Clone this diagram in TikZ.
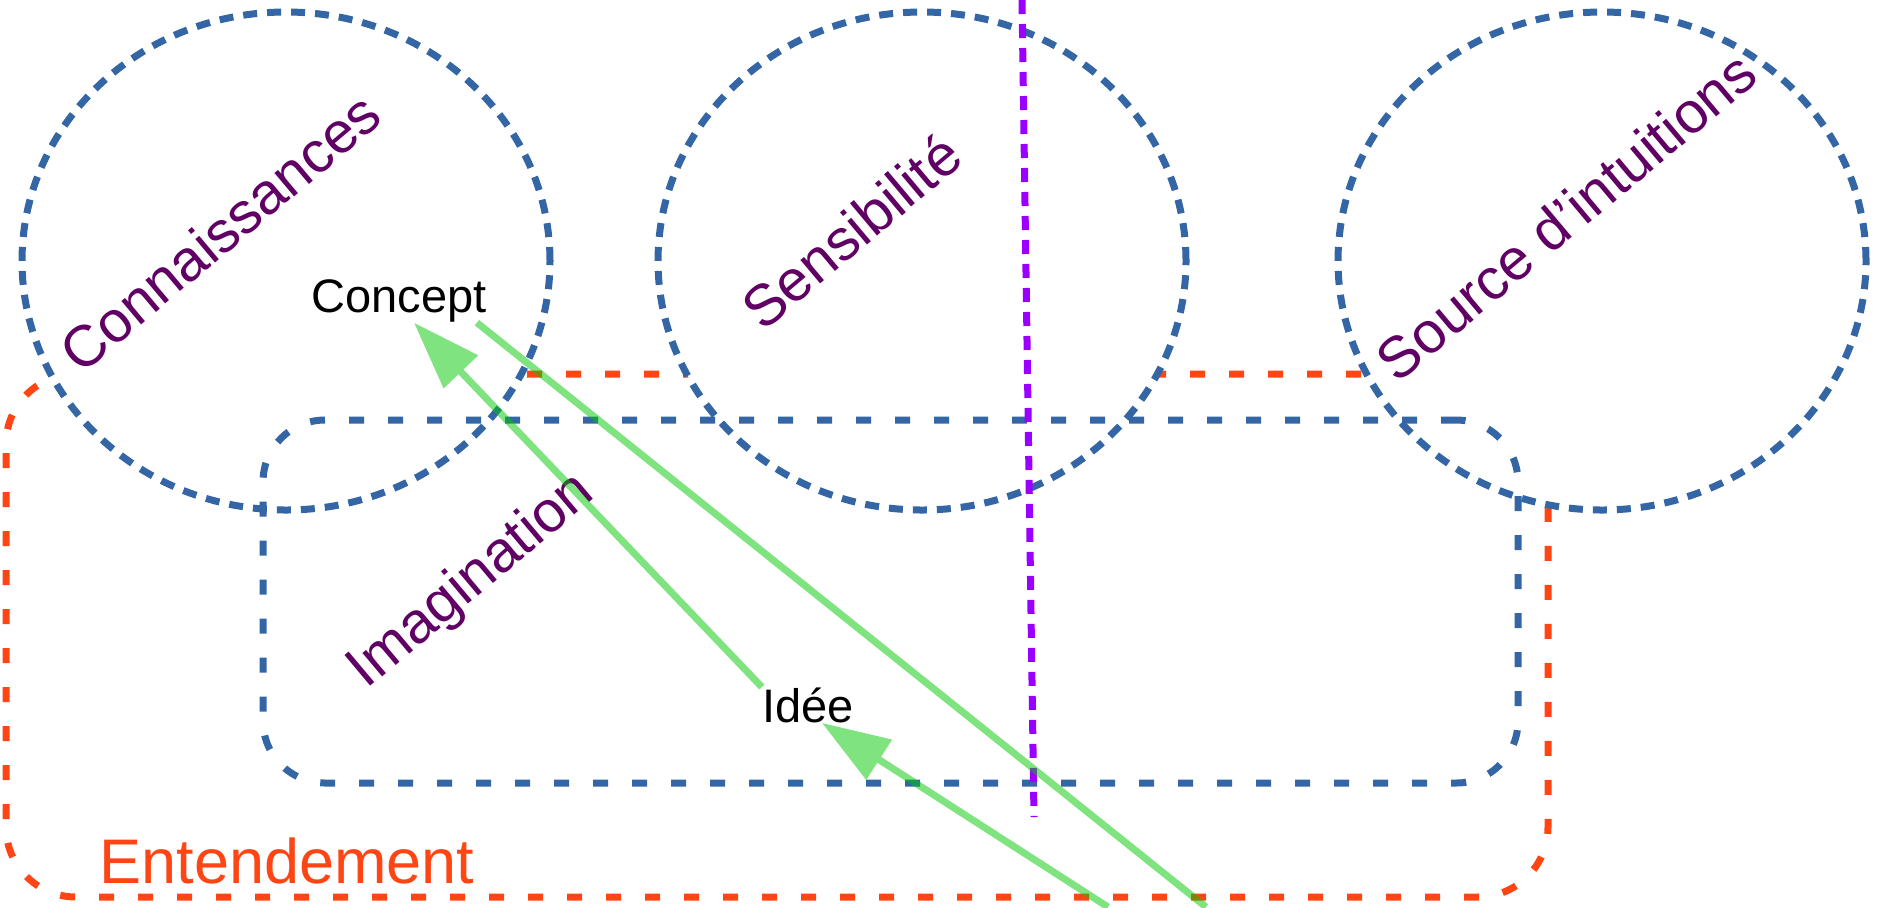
\documentclass[tikz,border=0pt]{standalone}
\usepackage{fontspec}
\setmainfont{Liberation Sans}
\usetikzlibrary{arrows.meta,positioning,shapes.geometric}
\definecolor{kantBlue}{RGB}{52,101,164}
\definecolor{kantOrange}{RGB}{255,69,20}
\definecolor{kantPurple}{RGB}{96,0,100}
\definecolor{kantViolet}{RGB}{153,0,255}
\definecolor{kantGreen}{RGB}{0,200,0}

\begin{document}
\begin{tikzpicture}[
  x=0.5pt, y=-0.5pt,
  faculty/.style={
    ellipse,
    draw=kantBlue,
    fill=white,
    line width=3.5pt,
    dash pattern=on 7pt off 5pt,
    minimum width=264pt,
    minimum height=249pt
  },
  region/.style={
    draw,
    rounded corners=31pt,
    line width=3.5pt,
    dash pattern=on 7.5pt off 12pt
  },
  facname/.style={rotate=40, text=kantPurple, font=\fontsize{29}{34}\selectfont},
  term/.style={inner sep=0pt, font=\fontsize{23.5}{28}\selectfont},
  arrow/.style={-{Triangle[length=34pt,width=23pt]}, line width=3.5pt, kantGreen}
]
  \useasboundingbox (0,0) rectangle (1885,907);
  % Entendement
  \node[region, draw=kantOrange, rounded corners=35pt, minimum width=771pt, minimum height=261.5pt] (entend) at (777,635.5) {};
  % the three faculties
  \node[faculty] (connC) at (286,261) {};
  \node[faculty] (sensC) at (922,261) {};
  \node[faculty] (sourceC) at (1602,261) {};
  % Imagination
  \node[region, draw=kantBlue, minimum width=627.5pt, minimum height=181.5pt] (imag) at (890.5,601.5) {};

  \node[facname] (connL) at (220,232) {Connaissances};
  \node[facname] (sensL) at (851,231) {Sensibilité};
  \node[facname] (sourceL) at (1566,216) {Source d’intuitions};
  \node[facname] (imagL) at (472,582) {Imagination};
  \node[text=kantOrange, font=\fontsize{31.5}{38}\selectfont] (entendL) at (287,861) {Entendement};

  \node[term] (concept) at (399,301) {Concept};
  \node[term] (idee) at (808,705) {Idée};

  % limit
  \coordinate (limTop) at (1022,0);
  \coordinate (limBot) at (1034,817);
  \draw[kantViolet, line width=3.5pt, dash pattern=on 7pt off 5pt] (limTop) -- (limBot);

  \coordinate (outA) at (1206,907);
  \coordinate (outB) at (1108,907);
  \begin{scope}[transparency group, opacity=0.5]
    \draw[arrow] (idee.north west) -- ([xshift=7.5pt]concept.south);
    \draw[arrow, -] ([xshift=-5pt]concept.south east) -- (outA);
    \draw[arrow] (outB) -- ([xshift=7pt]idee.south);
  \end{scope}
\end{tikzpicture}
\end{document}
